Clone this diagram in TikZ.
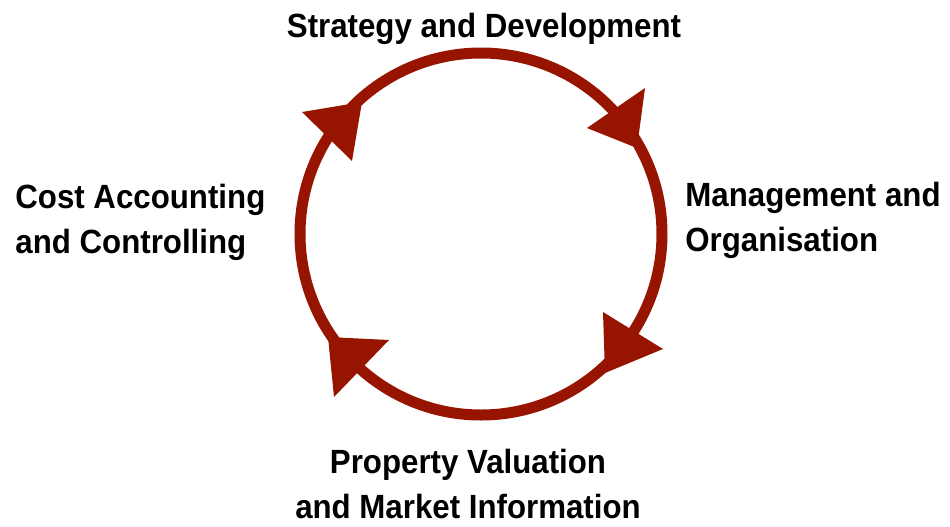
\documentclass[tikz,border=0pt]{standalone}
\usepackage{fontspec}
\setmainfont{Liberation Sans}[FakeStretch=0.93]
\usepackage{tikz}
\definecolor{cyclered}{RGB}{150,20,0}

\begin{document}
\begin{tikzpicture}[x=0.5pt,y=-0.5pt,
    areatext/.style={inner sep=0pt,black,font=\fontsize{16.8}{22.5}\selectfont\bfseries},
    headfill/.style={fill=cyclered}]
    \useasboundingbox (0,0) rectangle (950,526);
    % the cycle
    \draw [cyclered,line width=5.5pt] (481,234) circle (90.5pt);
    % arrow heads, clockwise
    \fill [headfill] (302,112) -- (362,102) -- (352,161) -- cycle;
    \fill [headfill] (645,88) -- (587,128) -- (637,148) -- cycle;
    \fill [headfill] (603,312) -- (663,349) -- (605,373) -- cycle;
    \fill [headfill] (328,337) -- (389,340) -- (334,397) -- cycle;
    % the four areas (base = last line)
    \node [areatext,anchor=base] (strategy) at (484,37) {Strategy and Development};
    \node [areatext,anchor=base west,align=left] (management) at (685,251) {Management and\\Organisation};
    \node [areatext,anchor=base,align=center] (valuation) at (468,518) {Property Valuation\\and Market Information};
    \node [areatext,anchor=base west,align=left] (cost) at (15,253) {Cost Accounting\\and Controlling};
\end{tikzpicture}
\end{document}
